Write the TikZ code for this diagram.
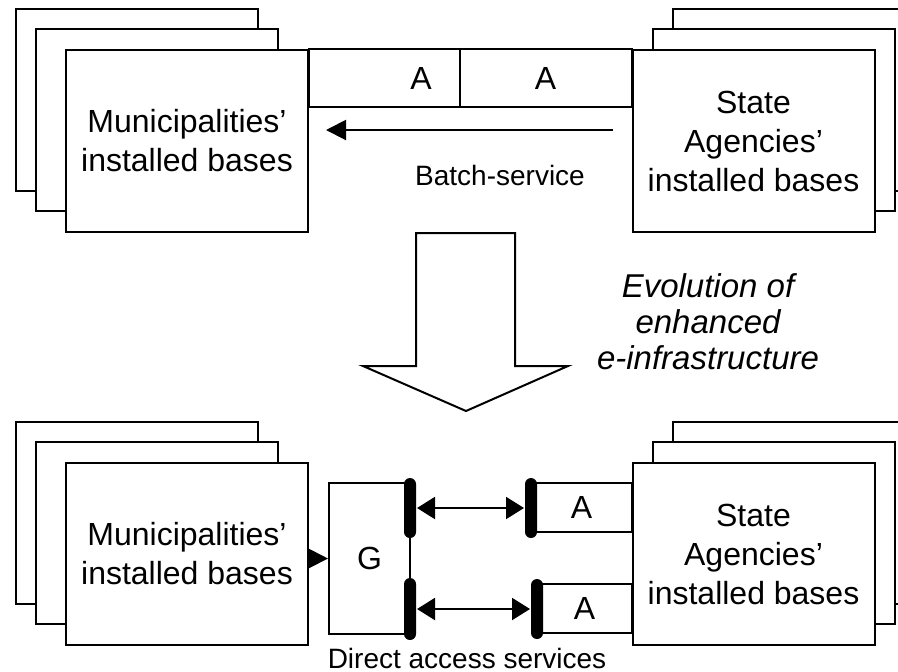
\documentclass[tikz,border=0pt]{standalone}
\usepackage{fontspec}
\setmainfont{Liberation Sans}
\usetikzlibrary{arrows.meta,positioning}

\begin{document}
\begin{tikzpicture}[x=0.5pt,y=-0.5pt,line width=1pt,
  basebox/.style={draw,fill=white,minimum width=121pt,minimum height=91pt,align=center,font=\fontsize{16}{19.5}\selectfont},
  abox/.style={draw,fill=white,inner sep=0pt,outer sep=0pt,font=\fontsize{16}{19}\selectfont},
  portbar/.style={fill=black,rounded corners=3pt,minimum width=6pt,inner sep=0pt},
  labeltext/.style={font=\fontsize{14}{17}\selectfont},
  headarrow/.style={-{Triangle[length=10pt,width=10pt]}},
  twoheads/.style={{Triangle[length=9pt,width=11pt]}-{Triangle[length=9pt,width=11pt]}}]
  \useasboundingbox (0,0) rectangle (898,671);
  \clip (0,0) rectangle (898,671);
  \foreach \cy/\row in {141/T,554/B}{
    \foreach \dl/\dr/\dy/\k in {-50/40/-41/2,-30/20/-21/1}{
      \node[basebox] (muni\row\k) at ({187+\dl},{\cy+\dy}) {};
      \node[basebox] (state\row\k) at ({753.5+\dr},{\cy+\dy}) {};
    }
  }
  \node[basebox] (muniT) at (187,141) {Municipalities'\\installed bases};
  \node[basebox] (stateT) at (753.5,141) {State\\Agencies'\\installed bases};
  \node[basebox] (muniB) at (187,554) {Municipalities'\\installed bases};
  \node[basebox] (stateB) at (753.5,554) {State\\Agencies'\\installed bases};

  \node[abox,minimum width=112pt,minimum height=29pt,anchor=north west] (aleft) at (muniT.north east) {A};
  \node[abox,minimum width=86pt,minimum height=29pt,anchor=north east] (aright) at (stateT.north west) {A};
  \draw[headarrow,shorten <=9.5pt,shorten >=8.5pt] ([yshift=5.5pt]stateT.west) -- ([yshift=5.5pt]muniT.east);
  \node[labeltext] (batch) at (500,175) {Batch-service};

  \draw (416,233) -- (515,233) -- (515,366) -- (568,366) -- (466,411) -- (363,366) -- (416,366) -- cycle;
  \node[align=center,font=\fontsize{16.5}{18}\selectfont\itshape] (evol) at (708,322) {Evolution of\\enhanced\\e-infrastructure};

  \node[draw,minimum width=40.5pt,minimum height=75.5pt,font=\fontsize{16}{19}\selectfont] (gate) at (369.5,558.5) {G};
  \node[abox,minimum width=50.5pt,minimum height=24.5pt] (aup) at (581.5,507.5) {A};
  \node[abox,minimum width=47.5pt,minimum height=24.5pt] (adown) at (584.5,608.5) {A};
  \node[portbar,minimum height=30pt] (gport1) at (410,508) {};
  \node[portbar,minimum height=31pt] (gport2) at (410,609) {};
  \node[portbar,minimum height=30pt] (aport1) at (531,508) {};
  \node[portbar,minimum height=30pt] (aport2) at (537,609) {};
  \draw[twoheads] (gport1) -- (aport1);
  \draw[twoheads] (gport2) -- (aport2);
  \draw[headarrow] (gate.west -| muniB.east) -- (gate.west);
  \node[labeltext] (direct) at (467,658) {Direct access services};
\end{tikzpicture}
\end{document}
